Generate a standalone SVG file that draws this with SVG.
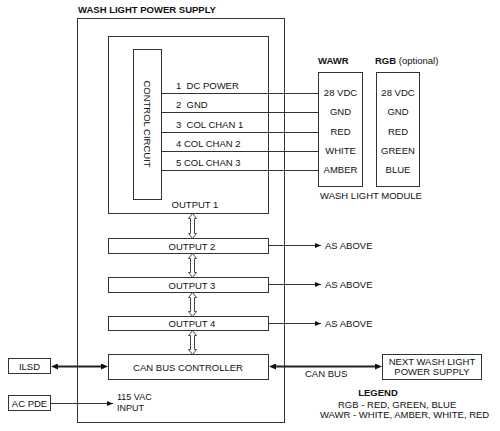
<svg xmlns="http://www.w3.org/2000/svg" width="500" height="431" viewBox="0 0 500 431">
<style>
text{font-family:"Liberation Sans",Arial,sans-serif;font-size:9.5px;fill:#111}
.b{font-weight:bold}
.m{text-anchor:middle}
.pre{white-space:pre}
.s{font-size:9px}
.box{fill:none;stroke:#333;stroke-width:1}
.ln{fill:none;stroke:#333;stroke-width:1}
.thk{fill:none;stroke:#222;stroke-width:2}
.hol{fill:#fff;stroke:#444;stroke-width:1}
</style>
<defs>
<marker id="a" viewBox="0 0 6 5" refX="6" refY="2.5" markerWidth="6" markerHeight="5" markerUnits="userSpaceOnUse" orient="auto"><path d="M0,0 L6,2.5 L0,5 z" fill="#111"/></marker>
<marker id="a2" viewBox="0 0 7 6" refX="3" refY="3" markerWidth="7" markerHeight="6" markerUnits="userSpaceOnUse" orient="auto-start-reverse"><path d="M0,0 L7,3 L0,6 z" fill="#111"/></marker>
</defs>

<g id="power-supply">
<rect class="box" x="77.5" y="18.5" width="207" height="404"/>
<text class="b" x="78" y="13">WASH LIGHT POWER SUPPLY</text>
</g>

<g id="output1">
<rect class="box" x="108.5" y="36.5" width="160" height="177"/>
<text class="m" x="195" y="208">OUTPUT 1</text>
</g>

<g id="control-circuit">
<rect class="box" x="133.5" y="49.5" width="28" height="150"/>
<text class="m" transform="translate(144,124) rotate(90)">CONTROL CIRCUIT</text>
</g>

<g id="output2">
<rect class="box" x="108.5" y="238.5" width="160" height="15"/>
<text class="m" x="192" y="249.5">OUTPUT 2</text>
</g>
<g id="output3">
<rect class="box" x="108.5" y="277.5" width="160" height="15"/>
<text class="m" x="192" y="288.5">OUTPUT 3</text>
</g>
<g id="output4">
<rect class="box" x="108.5" y="316.5" width="160" height="14"/>
<text class="m" x="192" y="327">OUTPUT 4</text>
</g>

<g id="can-bus-controller">
<rect class="box" x="108.5" y="354.5" width="160" height="25"/>
<text class="m" x="188" y="370.5">CAN BUS CONTROLLER</text>
</g>

<g id="wawr">
<text class="b" x="318" y="64">WAWR</text>
<rect class="box" x="318.5" y="72.5" width="44" height="114"/>
<text class="m" x="340.5" y="96">28 VDC</text>
<text class="m" x="340.5" y="115">GND</text>
<text class="m" x="340.5" y="135">RED</text>
<text class="m" x="340.5" y="154">WHITE</text>
<text class="m" x="340.5" y="173">AMBER</text>
</g>

<g id="rgb">
<text x="375" y="64"><tspan class="b">RGB</tspan> (optional)</text>
<rect class="box" x="376.5" y="72.5" width="43" height="114"/>
<text class="m" x="398" y="96">28 VDC</text>
<text class="m" x="398" y="115">GND</text>
<text class="m" x="398" y="135">RED</text>
<text class="m" x="398" y="154">GREEN</text>
<text class="m" x="398" y="173">BLUE</text>
<text class="m" x="371" y="199">WASH LIGHT MODULE</text>
</g>

<g id="ilsd">
<rect class="box" x="8.5" y="358.5" width="42" height="15"/>
<text class="m" x="29.5" y="369.5">ILSD</text>
</g>

<g id="ac-pde">
<rect class="box" x="8.5" y="395.5" width="42" height="15"/>
<text class="m" x="29.5" y="406.5">AC PDE</text>
</g>

<g id="next-supply">
<rect class="box" x="382.5" y="354.5" width="99" height="25"/>
<text class="m" x="432" y="365">NEXT WASH LIGHT</text>
<text class="m" x="432" y="375">POWER SUPPLY</text>
</g>

<g id="legend">
<text class="b m" x="378" y="396">LEGEND</text>
<text x="338" y="408">RGB - RED, GREEN, BLUE</text>
<text x="320" y="418">WAWR - WHITE, AMBER, WHITE, RED</text>
</g>

<g id="connectors">
<line class="ln" x1="161.5" y1="93.5" x2="318.5" y2="93.5"/>
<line class="ln" x1="161.5" y1="112.5" x2="318.5" y2="112.5"/>
<line class="ln" x1="161.5" y1="132.5" x2="318.5" y2="132.5"/>
<line class="ln" x1="161.5" y1="151.5" x2="318.5" y2="151.5"/>
<line class="ln" x1="161.5" y1="170.5" x2="318.5" y2="170.5"/>
<text class="pre" x="176" y="89">1  DC POWER</text>
<text class="pre" x="176" y="108">2  GND</text>
<text class="pre" x="176" y="128">3  COL CHAN 1</text>
<text x="176" y="147">4 COL CHAN 2</text>
<text x="176" y="166">5 COL CHAN 3</text>

<path class="hol" d="M192.5,213.5 L196.5,218.5 L194.5,218.5 L194.5,233.5 L196.5,233.5 L192.5,238.5 L188.5,233.5 L190.5,233.5 L190.5,218.5 L188.5,218.5 Z"/>
<path class="hol" d="M192.5,253.5 L196.5,258.5 L194.5,258.5 L194.5,272.5 L196.5,272.5 L192.5,277.5 L188.5,272.5 L190.5,272.5 L190.5,258.5 L188.5,258.5 Z"/>
<path class="hol" d="M192.5,292.5 L196.5,297.5 L194.5,297.5 L194.5,311.5 L196.5,311.5 L192.5,316.5 L188.5,311.5 L190.5,311.5 L190.5,297.5 L188.5,297.5 Z"/>
<path class="hol" d="M192.5,330.5 L196.5,335.5 L194.5,335.5 L194.5,349.5 L196.5,349.5 L192.5,354.5 L188.5,349.5 L190.5,349.5 L190.5,335.5 L188.5,335.5 Z"/>

<line class="ln" x1="268.5" y1="245.5" x2="321" y2="245.5" marker-end="url(#a)"/>
<line class="ln" x1="268.5" y1="284.5" x2="321" y2="284.5" marker-end="url(#a)"/>
<line class="ln" x1="268.5" y1="323.5" x2="321" y2="323.5" marker-end="url(#a)"/>
<text x="325" y="249">AS ABOVE</text>
<text x="325" y="288">AS ABOVE</text>
<text x="325" y="327">AS ABOVE</text>

<line class="thk" x1="55" y1="366.5" x2="104" y2="366.5" marker-start="url(#a2)" marker-end="url(#a2)"/>
<line class="thk" x1="273" y1="366.5" x2="378" y2="366.5" marker-start="url(#a2)" marker-end="url(#a2)"/>
<text x="305" y="377">CAN BUS</text>

<line class="ln" x1="50.5" y1="403.5" x2="113" y2="403.5" marker-end="url(#a)"/>
<text class="s" x="117" y="400">115 VAC</text>
<text class="s" x="117" y="410.5">INPUT</text>
</g>
</svg>
